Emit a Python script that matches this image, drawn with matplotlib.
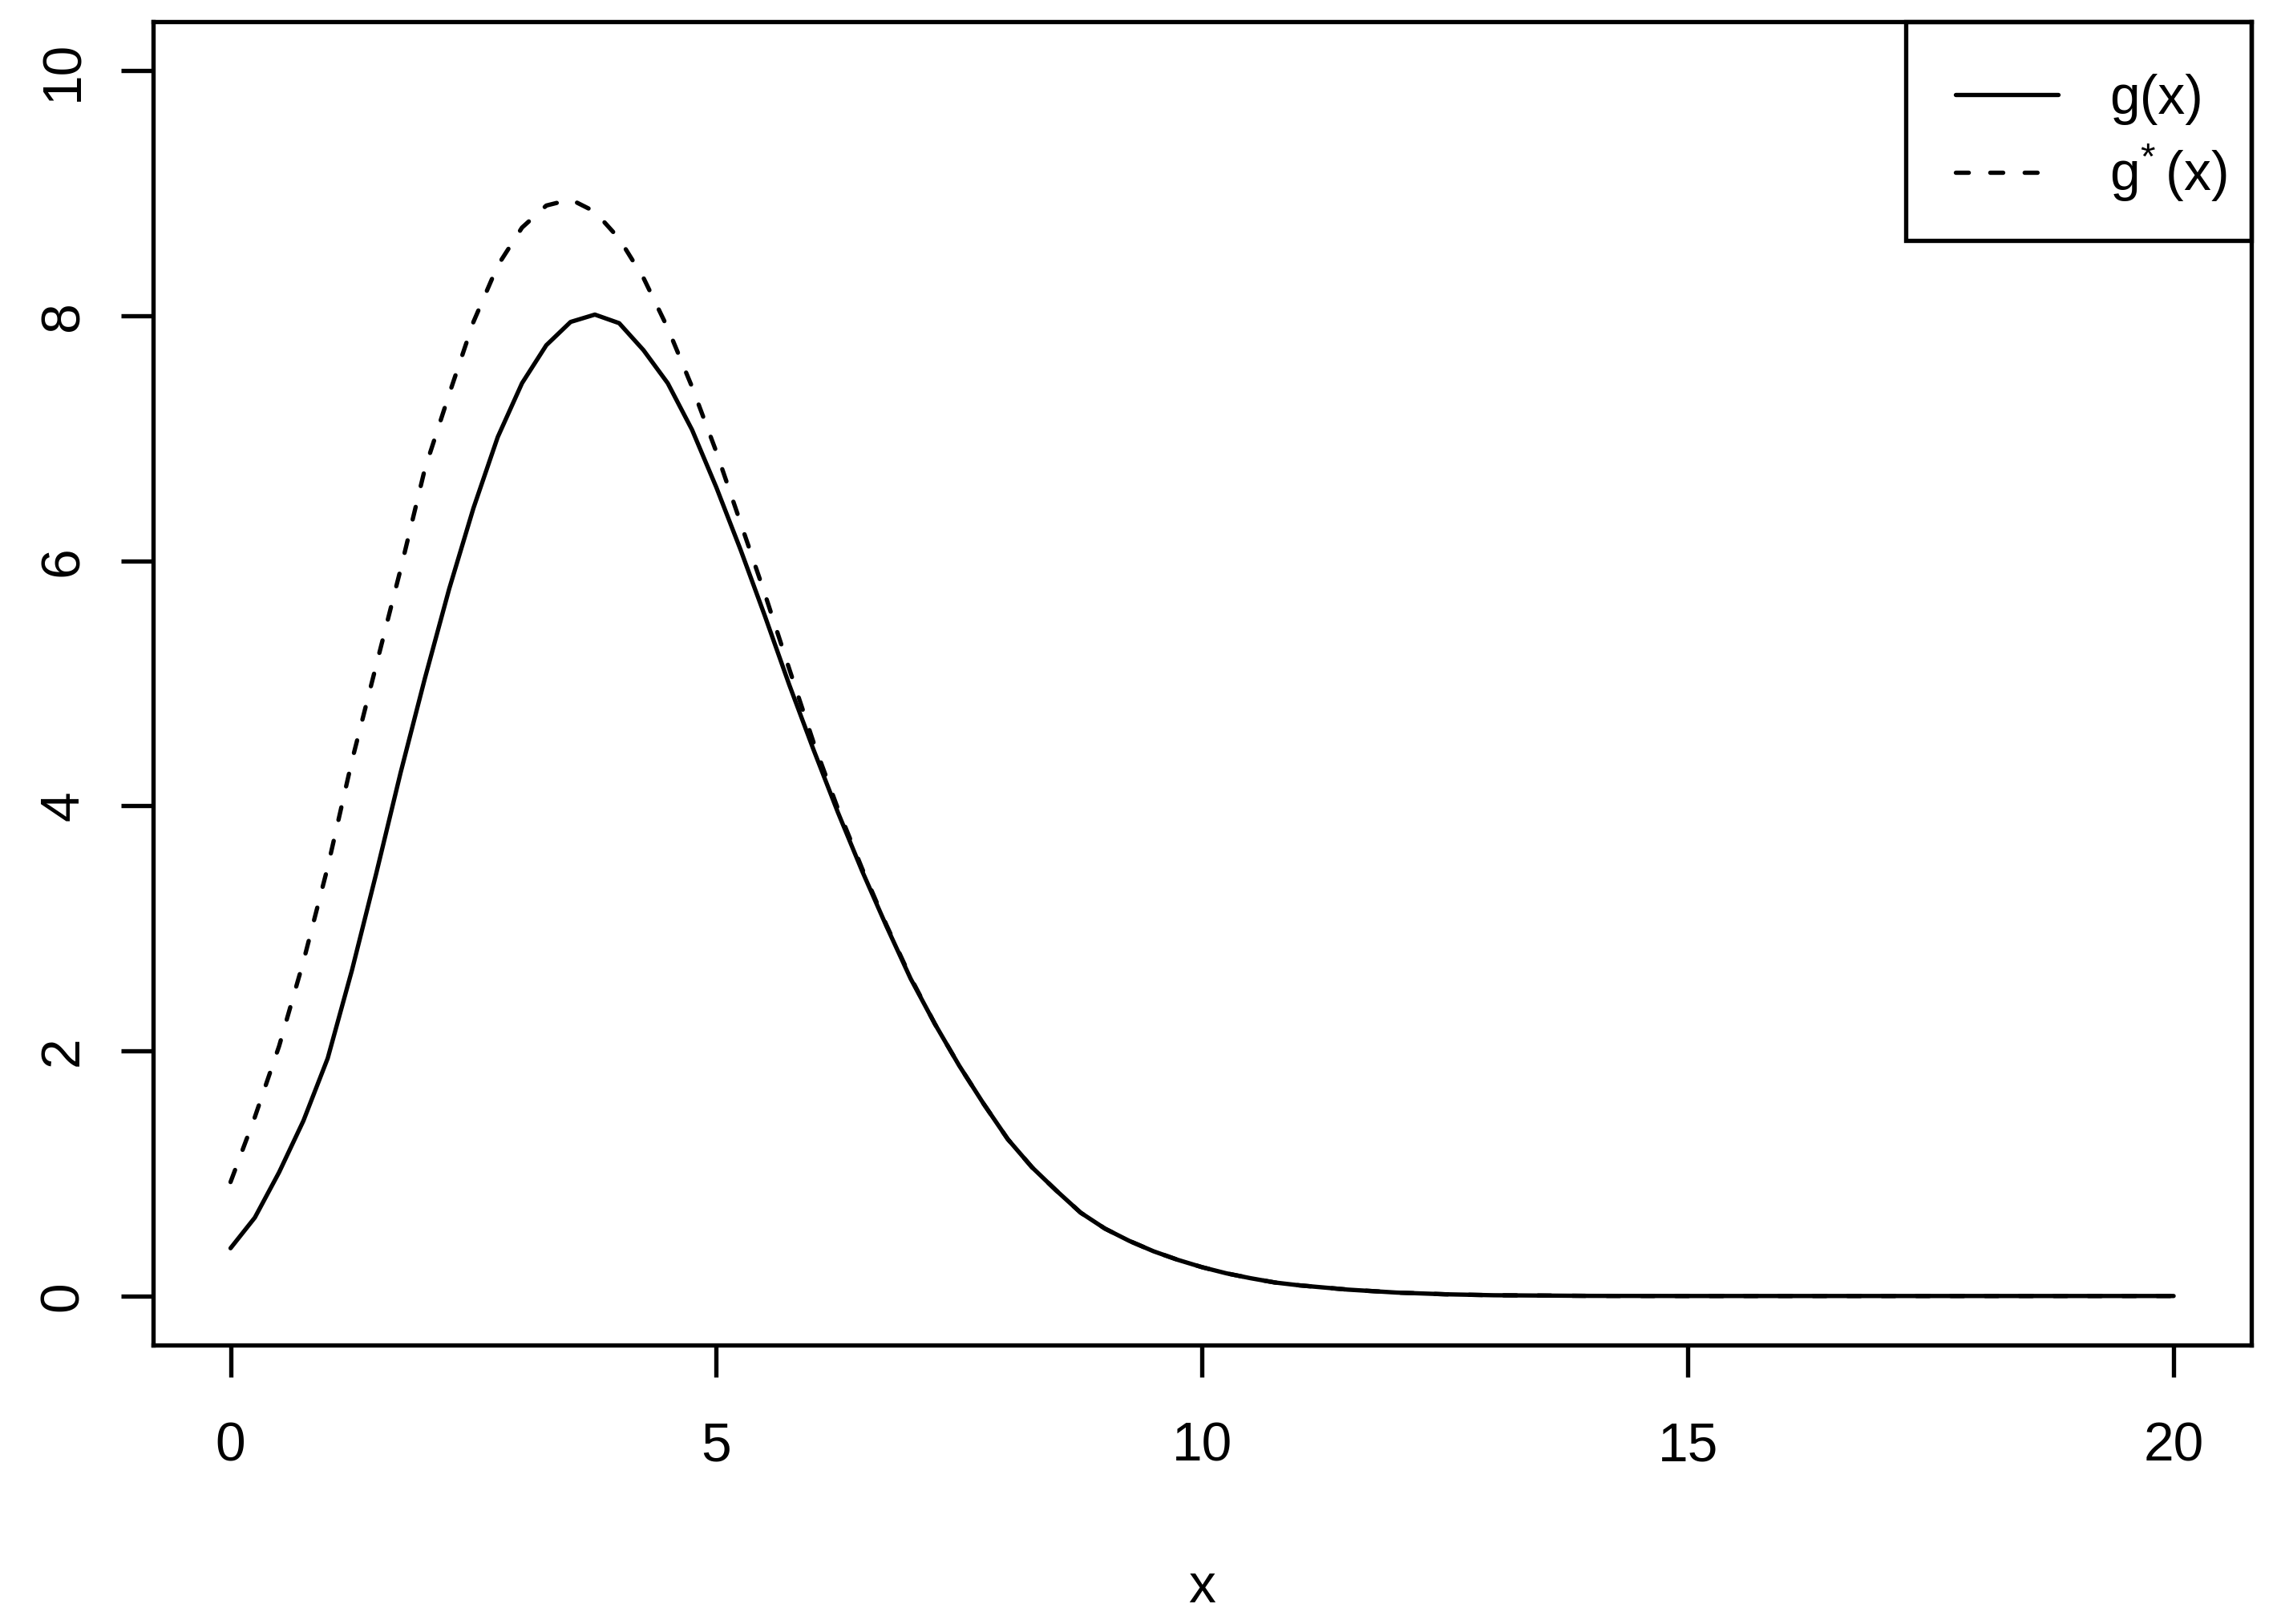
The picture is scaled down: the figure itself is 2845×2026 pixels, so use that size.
import matplotlib
matplotlib.use('Agg')
import matplotlib.pyplot as plt
from matplotlib.patches import Rectangle

# values
x_vals = [0, 0.25, 0.5, 0.75, 1.0, 1.25, 1.5, 1.75, 2.0, 2.25, 2.5, 2.75,
          3.0, 3.25, 3.5, 3.75, 4.0, 4.25, 4.5, 4.75, 5.0, 5.25, 5.5, 5.75,
          6.0, 6.25, 6.5, 6.75, 7.0, 7.25, 7.5, 7.75, 8.0, 8.25, 8.5, 8.75,
          9.0, 9.25, 9.5, 9.75, 10.0, 10.25, 10.5, 10.75, 11.0, 11.5, 12.0,
          12.5, 13.0, 14.0, 15.0, 16.0, 17.0, 18.0, 19.0, 20.0]
g_vals = [0.39, 0.64, 1.01, 1.43, 1.94, 2.66, 3.45, 4.27, 5.04, 5.77, 6.43, 7.01,
          7.45, 7.76, 7.95, 8.01, 7.94, 7.72, 7.45, 7.07, 6.60, 6.09, 5.55, 4.99,
          4.46, 3.95, 3.47, 3.02, 2.59, 2.22, 1.88, 1.57, 1.28, 1.05, 0.86, 0.68,
          0.55, 0.45, 0.365, 0.295, 0.235, 0.185, 0.145, 0.11, 0.087, 0.052, 0.028,
          0.014, 0.006, 0.001, 0, 0, 0, 0, 0, 0]
gstar_vals = [0.93, 1.46, 2.04, 2.73, 3.50, 4.37, 5.15, 5.93, 6.75, 7.36, 7.95, 8.41,
              8.72, 8.90, 8.95, 8.85, 8.63, 8.31, 7.90, 7.42, 6.89, 6.31, 5.73, 5.12,
              4.52, 3.98, 3.49, 3.03, 2.60, 2.22, 1.88, 1.57, 1.28, 1.05, 0.86, 0.68,
              0.55, 0.45, 0.365, 0.295, 0.235, 0.185, 0.145, 0.11, 0.087, 0.052, 0.028,
              0.014, 0.006, 0.001, 0, 0, 0, 0, 0, 0]
x_ticks = [0, 5, 10, 15, 20]
y_ticks = [0, 2, 4, 6, 8, 10]
labels = ['g(x)', r'$\mathregular{g^{*}\,(x)}$']

plt.rcParams['font.family'] = ['Liberation Sans', 'DejaVu Sans']
plt.rcParams['mathtext.fontset'] = 'custom'
plt.rcParams['mathtext.rm'] = 'Liberation Sans'
plt.rcParams['font.size'] = 12

lw = 0.95
dpi = 2845 / 7
fig = plt.figure(figsize=(7, 2026 / dpi), dpi=dpi)
ax = fig.add_axes([0.0670, 0.1718, 0.9200, 0.8148])

ax.plot(x_vals, g_vals, color='black', lw=lw, solid_joinstyle='round',
        solid_capstyle='round', label=labels[0])
ax.plot(x_vals, gstar_vals, color='black', lw=lw, linestyle=(0, (3, 5)),
        dash_capstyle='round', label=labels[1])

ax.set_xlim(-0.8, 20.8)
ax.set_ylim(-0.4, 10.4)
ax.set_xticks(x_ticks)
ax.set_yticks(y_ticks)
ax.tick_params(axis='both', direction='out', length=7.1, width=lw, labelsize=12)
ax.tick_params(axis='x', pad=9.6)
ax.tick_params(axis='y', pad=7, labelrotation=90)
for lab in ax.get_yticklabels():
    lab.set_va('center')
for sp in ax.spines.values():
    sp.set_linewidth(lw)
ax.set_xlabel('x', fontsize=12, labelpad=20)

# legend box in the top right corner, R style (frame drawn separately)
ax.add_patch(Rectangle((0.8352, 0.8347), 1 - 0.8352, 1 - 0.8347,
                       transform=ax.transAxes, fill=False, edgecolor='black',
                       lw=lw, clip_on=False, zorder=5))
ax.legend(loc='center left', bbox_to_anchor=(0.8591, 0.9115), borderaxespad=0,
          borderpad=0, frameon=False, fontsize=12, handlelength=1.88,
          handletextpad=0.95, labelspacing=0.33)

fig.savefig('out.png', dpi=dpi, facecolor='white')
